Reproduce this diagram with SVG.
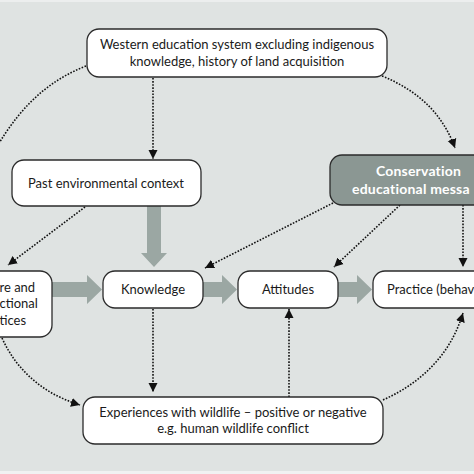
<svg xmlns="http://www.w3.org/2000/svg" width="474" height="474" viewBox="0 0 474 474">
<defs>
<marker id="ah" markerUnits="userSpaceOnUse" markerWidth="10" markerHeight="10" viewBox="0 0 10 10" refX="9" refY="5" orient="auto">
<path d="M0,0.5 L9,5 L0,9.5 Z" fill="#111"/>
</marker>
</defs>
<style>
.box{fill:#fff;stroke:#2b2b2b;stroke-width:1.3}
.dark{fill:#8b9793;stroke:#2b2b2b;stroke-width:1.3}
.t{font-family:Lato,"Liberation Sans",sans-serif;font-size:13px;fill:#1a1a1a;text-anchor:middle}
.tw{font-family:Lato,"Liberation Sans",sans-serif;font-size:14px;font-weight:bold;fill:#fff;text-anchor:middle;letter-spacing:0.2px}
.dot{fill:none;stroke:#111;stroke-width:1.6;stroke-dasharray:1.6 1.5;marker-end:url(#ah)}
.thick{fill:#9ba7a3;stroke:none}
</style>
<rect x="0" y="0" width="474" height="474" fill="#dfe3e2"/>
<rect x="0" y="0" width="474" height="2" fill="#eceeee"/>
<rect x="0" y="471" width="474" height="3" fill="#f1f2f2"/>

<g id="connectors">
<path class="thick" d="M52,282 L87,282 L87,275 L102,289.5 L87,304 L87,297 L52,297 Z"/>
<path class="thick" d="M203,282 L222,282 L222,275 L237,289.5 L222,304 L222,297 L203,297 Z"/>
<path class="thick" d="M338,282 L357,282 L357,275 L372,289.5 L357,304 L357,297 L338,297 Z"/>
<path class="thick" d="M147,206 L161,206 L161,253 L167,253 L154,267 L141,253 L147,253 Z"/>
<path class="dot" d="M153,78 L153,159"/>
<path class="dot" d="M86,66 C45,82 12,112 -18,175"/>
<path class="dot" d="M382,76 Q437,98 455,148"/>
<path class="dot" d="M85,207 L8,265"/>
<path class="dot" d="M333,203 L205,268"/>
<path class="dot" d="M400,205 L334,267"/>
<path class="dot" d="M463,205 L463,267"/>
<path class="dot" d="M153,309 L153,392"/>
<path class="dot" d="M289,397 L289,309"/>
<path class="dot" d="M383,400 Q445,372 463,313"/>
<path class="dot" d="M2,338 Q25,388 80,405"/>
</g>

<g id="top">
<rect class="box" x="87" y="29" width="300" height="48" rx="12"/>
<text class="t" x="237" y="48.5">Western education system excluding indigenous</text>
<text class="t" x="237" y="65.5">knowledge, history of land acquisition</text>
</g>
<g id="past">
<rect class="box" x="12" y="160" width="189" height="46" rx="12"/>
<text class="t" x="106" y="187.5">Past environmental context</text>
</g>
<g id="conservation">
<rect class="dark" x="330" y="155" width="170" height="50" rx="12"/>
<text class="tw" x="418.5" y="175.5">Conservation</text>
<text class="tw" x="352" y="193.5" style="text-anchor:start">educational messa</text>
</g>
<g id="culture">
<rect class="box" x="-40" y="271" width="92" height="66" rx="12"/>
<text class="t" x="-0.5" y="291.5" style="text-anchor:start">re and</text>
<text class="t" x="-0.5" y="307.5" style="text-anchor:start">ctional</text>
<text class="t" x="-0.5" y="324.5" style="text-anchor:start">tices</text>
</g>
<g id="knowledge">
<rect class="box" x="103" y="271" width="100" height="37" rx="12"/>
<text class="t" x="153" y="293.5">Knowledge</text>
</g>
<g id="attitudes">
<rect class="box" x="238" y="271" width="100" height="37" rx="12"/>
<text class="t" x="288" y="293.5">Attitudes</text>
</g>
<g id="practice">
<rect class="box" x="373" y="271" width="130" height="37" rx="12"/>
<text class="t" x="387" y="293.5" style="text-anchor:start">Practice (behav</text>
</g>
<g id="experiences">
<rect class="box" x="83" y="397" width="300" height="47" rx="12"/>
<text class="t" x="233" y="416.5">Experiences with wildlife – positive or negative</text>
<text class="t" x="233" y="432.5">e.g. human wildlife conflict</text>
</g>
</svg>
